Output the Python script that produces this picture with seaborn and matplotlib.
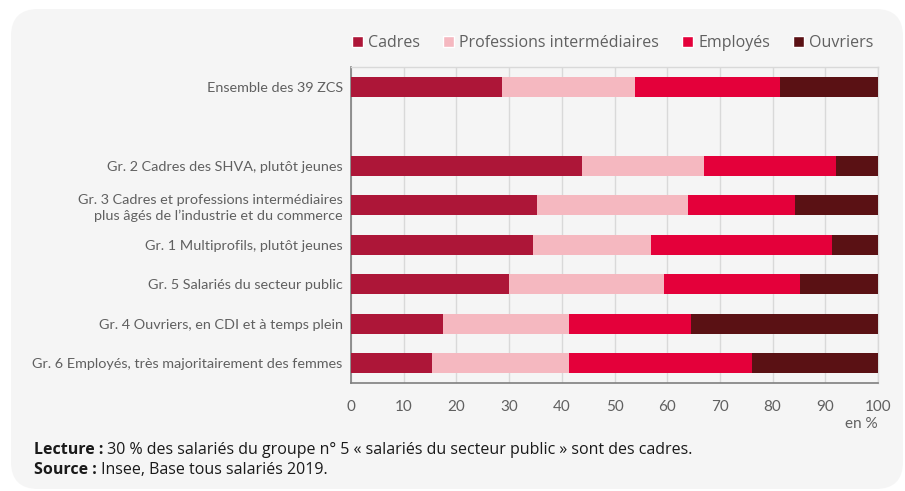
import pandas as pd
import seaborn as sns
import matplotlib.pyplot as plt
from matplotlib.patches import FancyBboxPatch, Patch

categories = ["Ensemble des 39 ZCS",
              " ",
              "Gr. 2 Cadres des SHVA, plutôt jeunes",
              "Gr. 3 Cadres et professions intermédiaires\nplus âgés de l’industrie et du commerce",
              "Gr. 1 Multiprofils, plutôt jeunes",
              "Gr. 5 Salariés du secteur public",
              "Gr. 4 Ouvriers, en CDI et à temps plein",
              "Gr. 6 Employés, très majoritairement des femmes"]
groups = [c for c in categories if c.strip()]
cadres = [28.7, 43.9, 35.2, 34.6, 30.0, 17.5, 15.4]
prof_inter = [25.1, 23.0, 28.7, 22.3, 29.3, 23.9, 25.9]
employes = [27.6, 25.2, 20.3, 34.4, 25.9, 23.1, 34.8]
ouvriers = [18.6, 7.9, 15.8, 8.7, 14.8, 35.5, 23.9]
series = ["Cadres", "Professions intermédiaires", "Employés", "Ouvriers"]
colors = ["#ad1638", "#f5b8c0", "#e4003a", "#5a1114"]
xticks = list(range(0, 101, 10))

df = pd.DataFrame({"groupe": groups, "Cadres": cadres,
                   "Professions intermédiaires": prof_inter,
                   "Employés": employes, "Ouvriers": ouvriers})
cum = df[series].cumsum(axis=1)
cum["groupe"] = df["groupe"]

sns.set_style("white")
plt.rcParams['font.family'] = ['Lato', 'DejaVu Sans']
grey = "#606060"

fig = plt.figure(figsize=(9.05, 4.91), dpi=100)
fig.patch.set_facecolor("white")
panel = FancyBboxPatch((11 / 905, 1 - 489 / 491), 892 / 905, 480 / 491,
                       boxstyle="round,pad=0,rounding_size=0.03",
                       transform=fig.transFigure, facecolor="#f5f5f5",
                       edgecolor="none", zorder=-10, mutation_aspect=905 / 491)
fig.patches.append(panel)

ax = fig.add_axes([351 / 905, 1 - 383 / 491, 527 / 905, 316 / 491])
ax.set_facecolor("#f5f5f5")
# stacked bars: draw cumulative totals from the last series back to the first
for s, c in reversed(list(zip(series, colors))):
    sns.barplot(data=cum, x=s, y="groupe", order=categories, color=c,
                saturation=1, width=0.5, orient="h", ax=ax, linewidth=0, zorder=3)

ax.set_xlim(0, 100)
ax.set_ylim(7.5, -0.5)
ax.set_xticks(xticks)
ax.set_xlabel("")
ax.set_ylabel("")
ax.grid(axis="x", color="#d9d9d9", linewidth=1, zorder=0)
ax.tick_params(axis="y", length=0, labelsize=10.4, colors=grey, pad=6)
ax.tick_params(axis="x", length=0, labelsize=11, colors=grey, pad=12)
for lab in ax.get_yticklabels():
    lab.set_linespacing(1.3)
for side in ["top", "right"]:
    ax.spines[side].set_color("#d9d9d9")
    ax.spines[side].set_linewidth(1)
for side in ["left", "bottom"]:
    ax.spines[side].set_color("#7f7f7f")
    ax.spines[side].set_linewidth(1.2)
ax.text(1.0, -0.108, "en %", transform=ax.transAxes, ha="right", va="top",
        fontsize=11, color=grey)

handles = [Patch(facecolor=c, label=s) for s, c in zip(series, colors)]
fig.legend(handles=handles, loc="center right", bbox_to_anchor=(880 / 905, 1 - 43 / 491),
           ncol=4, frameon=False, handlelength=0.65, handleheight=0.65,
           handletextpad=0.35, columnspacing=1.45, borderaxespad=0,
           prop={"family": ["Open Sans", "DejaVu Sans"], "size": 11.5},
           labelcolor=grey)

foot = {"family": ["Open Sans", "DejaVu Sans"], "size": 11.5, "color": "#1a1a1a"}
b1 = fig.text(34 / 905, 1 - 450 / 491, "Lecture :", va="center", weight="bold", **foot)
ax.annotate(" 30 % des salariés du groupe n° 5 « salariés du secteur public » sont des cadres.",
            xy=(1, 0.5), xycoords=b1, va="center", annotation_clip=False, **foot)
b2 = fig.text(34 / 905, 1 - 470 / 491, "Source :", va="center", weight="bold", **foot)
ax.annotate(" Insee, Base tous salariés 2019.", xy=(1, 0.5), xycoords=b2,
            va="center", annotation_clip=False, **foot)

fig.savefig("out.png", dpi=100, facecolor="white")
